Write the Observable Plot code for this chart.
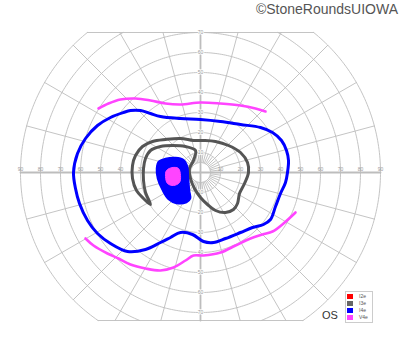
<!DOCTYPE html>
<html><head><meta charset="utf-8">
<script src="https://cdn.jsdelivr.net/npm/d3@7"></script>
<script src="https://cdn.jsdelivr.net/npm/@observablehq/plot@0.6"></script>
<style>
body{margin:0;background:#fff;font-family:"Liberation Sans",Arial,sans-serif;}
#wrap{position:relative;width:400px;height:352px;overflow:hidden;}
#wrap svg{position:absolute;left:0;top:0;}
#copy{position:absolute;right:2px;top:1px;font-size:14px;color:#555;white-space:nowrap;}
#os{position:absolute;left:322px;top:309px;font-size:11px;color:#333;}
#legend{position:absolute;left:345px;top:291px;width:26px;border:1px solid #ccc;padding:1px 0;background:#fff;}
.row{display:flex;align-items:center;height:7px;}
.sw{width:6px;height:5px;margin-left:1px;margin-right:6px;}
.lb{font-size:5px;color:#555;line-height:5px;}
</style></head><body>
<div id="wrap"></div>
<script>
// ---- data ----
const isopterNames = ["I2e", "I3e", "I4e", "V4e"];
const isopterColors = ["#ff0000", "#666666", "#0000ff", "#ff44ff"];
const eyeLabel = "OS";
const credit = "©StoneRoundsUIOWA";
const ringValues = [10, 20, 30, 40, 50, 60, 70, 80, 90];
const sideLabels = [10, 20, 30, 40, 50, 60, 70, 80, 90];
const upperLabels = [10, 20, 30, 40, 50, 60, 70];
const lowerLabels = [10, 20, 30, 40, 50, 60, 70];
const meridians = d3.range(0, 360, 15);
const innerMeridians = d3.range(7.5, 360, 15);
const fieldTop = 70, fieldBottom = 74, fieldMax = 90, innerRing = 5;

// isopters, [horizontal deg, vertical deg]
const I4e = [[43.5,0],[44,6],[43,11],[40.5,16],[36,20],[30,22.5],[20,24],[10,25.5],[0,26.5],[-10,27],[-20,28],[-25,29.5],[-30,31],[-35,31],[-38.5,30],[-45,27.5],[-51.5,23.5],[-57.5,17],[-61.5,9.5],[-63.5,0],[-62.5,-8],[-60.5,-15.5],[-56.5,-24],[-51.5,-30.5],[-45,-35.5],[-36.5,-39.5],[-27.5,-38.5],[-20,-35],[-15,-32.5],[-10,-30],[-4,-31],[1.5,-34.5],[6.5,-35],[12.5,-33],[20,-30],[26,-27.5],[31.5,-26],[35,-23.5],[37.5,-17],[40,-10.5],[42.5,-5]];
const I3e = [[-25,-16],[-28.5,-13],[-32,-9],[-34,-3],[-34,3.5],[-32.5,8.5],[-29,13],[-24,15.5],[-17.5,16.5],[-10,17],[-3.5,16],[1.5,16],[7.5,15.5],[14,13.5],[20,10],[23.5,5],[24,0],[22,-5.5],[19.5,-10.5],[18.5,-15.5],[16.5,-18.5],[12.5,-20],[7.5,-19],[3.5,-16],[0,-12.5],[-3,-8],[-5,-3],[-5.5,2],[-3.5,6],[-2.5,11],[-7.5,13],[-14,13.5],[-20,13],[-25,11],[-27.5,7],[-28.5,2],[-28.5,-4],[-27.5,-10]];
const I4eBlindSpot = [[-21,5.5],[-17.5,7],[-12.5,7.5],[-8.5,6.5],[-6.5,3],[-6,-3],[-5.5,-9],[-5,-13],[-7,-15],[-12,-15.5],[-16,-13.5],[-19,-9],[-21.5,-3],[-22,2]];
const V4eBlindSpot = [[-17,1],[-14,2.5],[-11,2],[-10,-1.5],[-10.5,-5],[-13.5,-6.5],[-16.5,-5.5],[-17.5,-2]];
const V4eSuperior = [[-51,32],[-46,34.5],[-40,36.5],[-32.5,37],[-25,36],[-17.5,34.5],[-10,34],[0,35],[10,34.5],[20,33.5],[27.5,32],[32.5,30.5]];
const V4eInferior = [[-57.5,-33],[-53.5,-36.5],[-46.5,-40.5],[-41,-43],[-35,-46],[-27.5,-48],[-20,-49],[-13.5,-47.5],[-7.5,-44],[-3.5,-41.5],[1.5,-41.5],[10,-40],[17.5,-36.5],[25,-33],[31,-31],[36,-29.5],[41.5,-25.5],[47.5,-20]];

// ---- grid geometry ----
const rad = Math.PI / 180;
function arc(key, r, a0, a1) {
  const n = Math.max(2, Math.ceil(Math.abs(a1 - a0)));
  return d3.range(n + 1).map(i => {
    const a = (a0 + (a1 - a0) * i / n) * rad;
    return {key, x: r * Math.cos(a), y: r * Math.sin(a)};
  });
}
const gridLines = [];
ringValues.forEach(r => {
  if (r <= fieldTop) gridLines.push(...arc("r" + r, r, 0, 360));
  else {
    const t = Math.asin(Math.min(1, fieldTop / r)) / rad;
    const b = Math.asin(Math.min(1, fieldBottom / r)) / rad;
    gridLines.push(...arc("r" + r + "R", r, -b, t));
    gridLines.push(...arc("r" + r + "L", r, 180 - t, 180 + b));
  }
});
gridLines.push(...arc("inner", innerRing, 0, 360));
function spokeEnd(a) {
  const s = Math.sin(a * rad);
  if (s > 1e-9) return Math.min(fieldMax, fieldTop / s);
  if (s < -1e-9) return Math.min(fieldMax, fieldBottom / -s);
  return fieldMax;
}
meridians.forEach(a => {
  if (a % 90 === 0) return;
  const re = spokeEnd(a);
  gridLines.push({key: "m" + a, x: innerRing * Math.cos(a * rad), y: innerRing * Math.sin(a * rad)});
  gridLines.push({key: "m" + a, x: re * Math.cos(a * rad), y: re * Math.sin(a * rad)});
});
innerMeridians.forEach(a => {
  gridLines.push({key: "n" + a, x: innerRing * Math.cos(a * rad), y: innerRing * Math.sin(a * rad)});
  gridLines.push({key: "n" + a, x: 10 * Math.cos(a * rad), y: 10 * Math.sin(a * rad)});
});
const xt = Math.sqrt(fieldMax * fieldMax - fieldTop * fieldTop);
const xb = Math.sqrt(fieldMax * fieldMax - fieldBottom * fieldBottom);
gridLines.push({key: "top", x: -xt, y: fieldTop}, {key: "top", x: xt, y: fieldTop});
gridLines.push({key: "bot", x: -xb, y: -fieldBottom}, {key: "bot", x: xb, y: -fieldBottom});
const axesLines = [
  {key: "h", x: -fieldMax, y: 0}, {key: "h", x: fieldMax, y: 0},
  {key: "v", x: 0, y: -fieldBottom}, {key: "v", x: 0, y: fieldTop}
];
const hLabels = [...sideLabels.map(v => ({v, x: -v})), ...sideLabels.map(v => ({v, x: v}))];
const vLabels = [...upperLabels.map(v => ({v, y: v})), ...lowerLabels.map(v => ({v, y: -v}))];

const px = d => d[0], py = d => d[1];
const chart = Plot.plot({
  width: 400, height: 352, margin: 0,
  x: {domain: [-100, 100], range: [0, 400], axis: null},
  y: {domain: [-90, 86], range: [352, 0], axis: null},
  style: {background: "transparent"},
  marks: [
    Plot.line(gridLines, {x: "x", y: "y", z: "key", stroke: "#bdbdbd", strokeWidth: 0.9}),
    Plot.line(axesLines, {x: "x", y: "y", z: "key", stroke: "#bdbdbd", strokeWidth: 1.8}),
    Plot.text(hLabels, {x: "x", y: 0, text: d => String(d.v), dy: -3, fontSize: 5, fill: "#999", fontFamily: "Liberation Sans"}),
    Plot.text(vLabels, {x: 0, y: "y", text: d => String(d.v), fontSize: 5, fill: "#999", stroke: "white", strokeWidth: 1.5, fontFamily: "Liberation Sans"}),
    Plot.line(V4eSuperior, {x: px, y: py, curve: "catmull-rom", stroke: isopterColors[3], strokeWidth: 2.6}),
    Plot.line(V4eInferior, {x: px, y: py, curve: "catmull-rom", stroke: isopterColors[3], strokeWidth: 2.6}),
    Plot.line(I4e, {x: px, y: py, curve: "catmull-rom-closed", stroke: isopterColors[2], strokeWidth: 3}),
    Plot.line(I3e, {x: px, y: py, curve: "catmull-rom-closed", stroke: "#555555", strokeWidth: 3}),
    Plot.line(I4eBlindSpot, {x: px, y: py, curve: "catmull-rom-closed", stroke: isopterColors[2], fill: isopterColors[2], strokeWidth: 1.5}),
    Plot.line(V4eBlindSpot, {x: px, y: py, curve: "catmull-rom-closed", stroke: isopterColors[3], fill: isopterColors[3], strokeWidth: 1})
  ]
});
const wrap = document.getElementById("wrap");
wrap.appendChild(chart);
const c = document.createElement("div"); c.id = "copy"; c.textContent = credit; wrap.appendChild(c);
const o = document.createElement("div"); o.id = "os"; o.textContent = eyeLabel; wrap.appendChild(o);
const lg = document.createElement("div"); lg.id = "legend";
isopterNames.forEach((n, i) => {
  const row = document.createElement("div"); row.className = "row";
  const sw = document.createElement("div"); sw.className = "sw"; sw.style.background = isopterColors[i];
  const lb = document.createElement("div"); lb.className = "lb"; lb.textContent = n;
  row.appendChild(sw); row.appendChild(lb); lg.appendChild(row);
});
wrap.appendChild(lg);
</script>
</body></html>
